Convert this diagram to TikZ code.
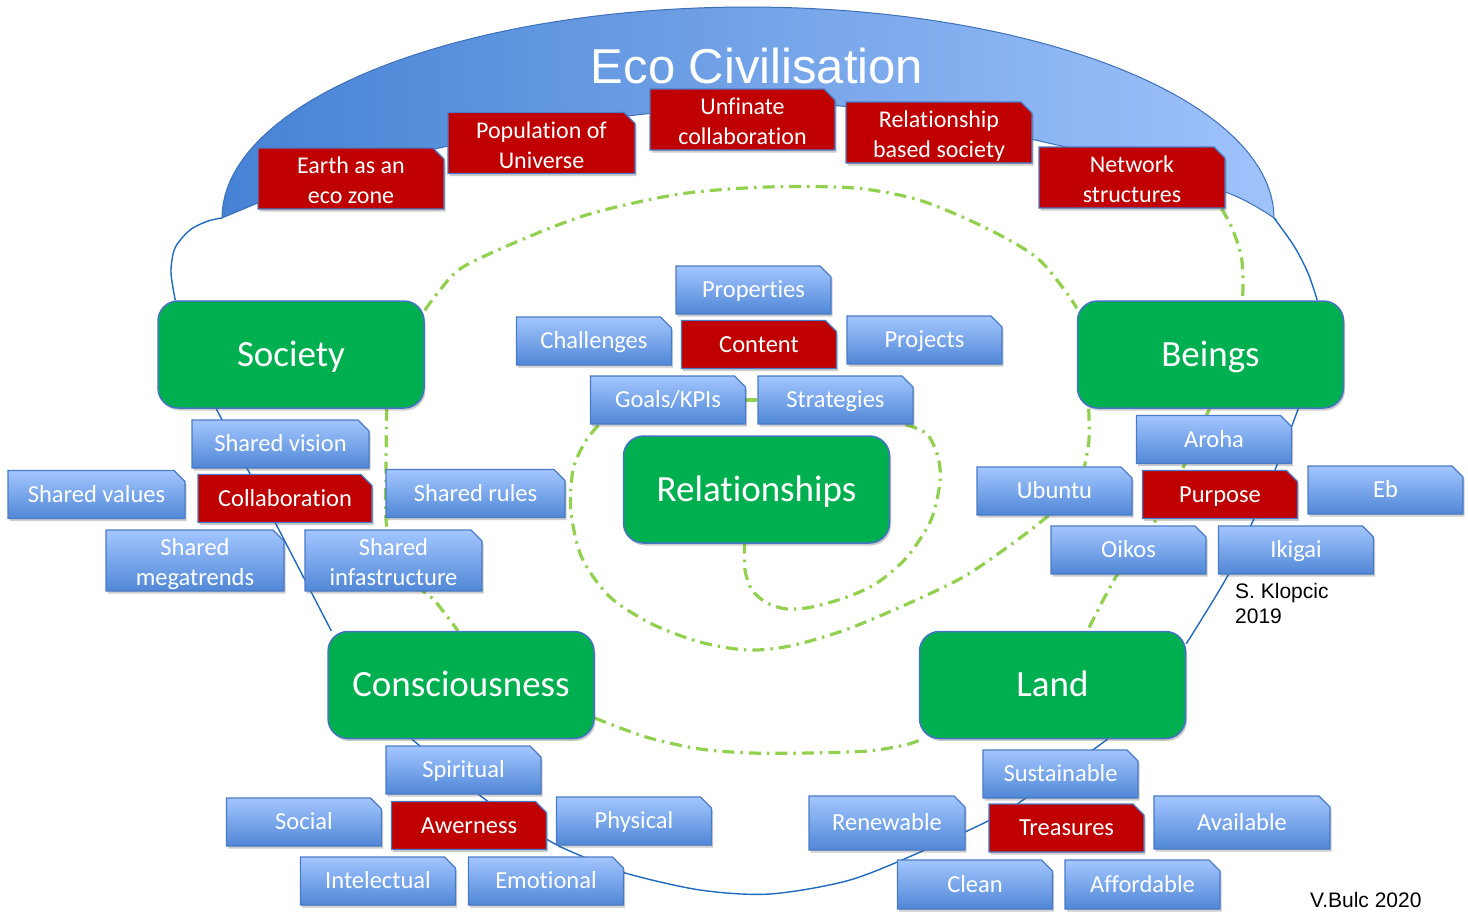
\documentclass[tikz,border=0pt]{standalone}
\usepackage{fontspec}
\setmainfont{Carlito}[Ligatures=NoCommon]
\newfontfamily\arialf{Liberation Sans}
\usetikzlibrary{shapes.misc,shadows,calc}
\definecolor{gboxfill}{HTML}{00B050}
\definecolor{gboxdraw}{HTML}{4472C4}
\definecolor{btop}{HTML}{A3C6FF}
\definecolor{bbot}{HTML}{5087D6}
\definecolor{bdraw}{HTML}{4A7BC6}
\definecolor{redfill}{HTML}{C00000}
\definecolor{arcleft}{HTML}{4682D4}
\definecolor{arcright}{HTML}{9FC3FB}
\definecolor{arcdraw}{HTML}{3E70B8}
\definecolor{bline}{HTML}{1F6BBF}
\definecolor{gline}{HTML}{92D050}
\pgfdeclarelayer{bg}
\pgfsetlayers{bg,main}
\tikzset{
  shad/.style={drop shadow={shadow xshift=1.5pt,shadow yshift=-2.5pt,opacity=0.28,fill=black!70}},
  greenbox/.style={rounded corners=20pt, fill=gboxfill, draw=gboxdraw, line width=1.5pt, text=white,
    font=\fontsize{37}{44}\selectfont, minimum width=266pt, minimum height=107pt, inner sep=0pt,
    text height=23.5pt, text depth=0pt, shad},
  snip/.style={chamfered rectangle, chamfered rectangle corners=north east, chamfered rectangle sep=5.5pt,
    inner sep=0pt, line width=1.2pt, draw=bdraw, text=white, align=center,
    minimum width=155pt, minimum height=48pt, text height=15.7pt, text depth=0pt, shad},
  twoline/.style={text height=50pt, text depth=0pt},
  bluebox/.style={snip, top color=btop, bottom color=bbot, font=\fontsize{24.5}{30}\selectfont},
  redbox/.style={snip, fill=redfill, font=\fontsize{24.5}{30}\selectfont},
  topbox/.style={snip, fill=redfill, font=\fontsize{24}{30}\selectfont, minimum width=186pt, minimum height=57pt, twoline},
  bconn/.style={draw=bline, line width=1.4pt},
  gconn/.style={draw=gline, line width=3.2pt, dash pattern=on 12pt off 6pt on 2.5pt off 6pt},
}
\begin{document}
\begin{tikzpicture}[x=1pt,y=-1pt]
\useasboundingbox (0,0) rectangle (1468,924);
% green boxes
\node[greenbox] (society) at (291,354.5) {Society};
\node[greenbox] (beings) at (1210.5,354.5) {Beings};
\node[greenbox] (relationships) at (756.5,489.5) {Relationships};
\node[greenbox] (consciousness) at (461,685) {Consciousness};
\node[greenbox] (land) at (1052.5,685) {Land};
% top red boxes
\node[topbox] (earth) at (351,178.5) {Earth as an\\eco zone};
\node[topbox, minimum width=187pt, minimum height=58pt] (population) at (541.5,143) {Population of\\Universe};
\node[topbox, minimum width=185pt] (unfinate) at (742.5,119.5) {Unfinate\\collaboration};
\node[topbox] (relsociety) at (939,132.5) {Relationship\\based society};
\node[topbox] (network) at (1132,177.5) {Network\\structures};
% centre group
\node[bluebox] (properties) at (753.5,290) {Properties};
\node[bluebox] (challenges) at (594,341) {Challenges};
\node[redbox] (content) at (759,344.5) {Content};
\node[bluebox] (projects) at (924.5,340) {Projects};
\node[bluebox] (goals) at (668,400) {Goals/KPIs};
\node[bluebox] (strategies) at (835.5,400) {Strategies};
% society group
\node[bluebox, minimum width=177pt] (sharedvision) at (280.5,444) {Shared vision};
\node[bluebox, minimum width=177pt] (sharedvalues) at (96.5,494.5) {Shared values};
\node[redbox, minimum width=174pt] (collaboration) at (285,498.5) {Collaboration};
\node[bluebox, minimum width=179pt] (sharedrules) at (475.5,493.5) {Shared rules};
\node[bluebox, minimum width=178pt, minimum height=61pt, twoline] (megatrends) at (195,560.5) {Shared\\megatrends};
\node[bluebox, minimum width=177pt, minimum height=61pt, twoline] (infrastructure) at (393.5,560.5) {Shared\\infastructure};
% beings group
\node[bluebox] (aroha) at (1214,439.5) {Aroha};
\node[bluebox] (ubuntu) at (1054.5,491) {Ubuntu};
\node[redbox] (purpose) at (1220,494.5) {Purpose};
\node[bluebox] (eb) at (1385.5,490) {Eb};
\node[bluebox] (oikos) at (1128.5,550) {Oikos};
\node[bluebox] (ikigai) at (1296,550) {Ikigai};
% consciousness group
\node[bluebox] (spiritual) at (463.5,770) {Spiritual};
\node[bluebox] (social) at (304,822) {Social};
\node[redbox] (awerness) at (469,825.5) {Awerness};
\node[bluebox] (physical) at (634,821) {Physical};
\node[bluebox] (intelectual) at (378,881) {Intelectual};
\node[bluebox] (emotional) at (546,881) {Emotional};
% land group
\node[bluebox] (sustainable) at (1060.5,774) {Sustainable};
\node[bluebox, minimum width=156pt, minimum height=54pt] (renewable) at (887,823) {Renewable};
\node[redbox] (treasures) at (1066.5,828) {Treasures};
\node[bluebox, minimum width=176pt, minimum height=53pt] (available) at (1242,822.5) {Available};
\node[bluebox, minimum height=49pt] (clean) at (975,884.5) {Clean};
\node[bluebox, minimum height=49pt] (affordable) at (1142.5,884.5) {Affordable};
% texts
\node[font=\arialf\fontsize{49}{55}\selectfont, text=white, inner sep=0pt] (title) at (757,66) {Eco Civilisation};
\node[font=\arialf\fontsize{21}{25}\selectfont, align=left, anchor=north west, inner sep=0pt] (klop) at (1235,583) {S. Klopcic\\2019};
\node[font=\arialf\fontsize{21}{25}\selectfont, anchor=base west, inner sep=0pt] (bulc) at (1310,907) {V.Bulc 2020};
\coordinate (arcL) at (222,218);
\coordinate (arcR) at (1274,218);
\begin{pgfonlayer}{bg}
\fill[white] (0,0) rectangle (1468,924);
% eco arc
\path[left color=arcleft, right color=arcright, draw=arcdraw, line width=1pt]
  plot[domain=180:0, samples=90, variable=\t] ({748+526*cos(\t)},{218-211*sin(\t)})
  -- plot[smooth, tension=0.6] coordinates {(1274,218) (1228,193) (1130,163) (1035,140) (940,120) (840,106) (745,106) (645,114) (545,128) (444,147) (350,170) (290,190) (258,203) (222,218)}
  -- cycle;
% blue connectors
\draw[bconn] plot[smooth] coordinates {([xshift=18pt]society.north west) (171,272) (175,248) (190,230) (208,221) (arcL)};
\draw[bconn] plot[smooth] coordinates {(arcR) (1294,246) (1308,273) ([xshift=-27pt]beings.north east)};
\draw[bconn] ([xshift=59pt]society.south west) -- ([xshift=4pt]consciousness.north west);
\draw[bconn] plot[smooth] coordinates {([xshift=-46pt]beings.south east) (1275,470) (1252,523) (1227,577) ([yshift=-13pt]land.north east)};
\draw[bconn] plot[smooth] coordinates {([xshift=-49pt]consciousness.south) (486,800) (548,840) (579,855) (625,873) (700,890) (770,894) (850,880) (925,850) (990,820) (1023,800) ([xshift=55pt]land.south)};
% green dash-dot connectors
\draw[gconn] plot[smooth] coordinates {([xshift=-4pt]network.south east) (1232,228) (1241,255) (1243,280) ([xshift=32pt]beings.north)};
\draw[gconn] plot[smooth] coordinates {([xshift=12pt]beings.south west) (1089,440) ([xshift=30pt]ubuntu.north)};
\draw[gconn] plot[smooth] coordinates {([xshift=-6pt]ubuntu.south) (1020,538) (965,576) (905,605) (845,630) (790,646) (747,650) (700,642) (652,624) (610,597) (582,558) (571,512) (573,470) (585,442) ([xshift=9pt]goals.south west)};
\draw[gconn] (goals.east) -- (strategies.west);
\draw[gconn] plot[smooth] coordinates {([xshift=-8pt]strategies.south east) (927,434) (938,457) (940,482) (931,520) (907,557) (877,583) (847,597) (812,607) (787,609) (767,603) (752,590) (745,570) ([xshift=-12pt]relationships.south)};
\draw[gconn] plot[smooth] coordinates {([yshift=-10pt]society.north east) (440,290) (463,267) (528,237) (593,213) (680,194) (767,187) (854,188) (919,200) (984,227) (1036,257) (1066,292) ([yshift=-8pt]beings.north west)};
\draw[gconn] plot[smooth] coordinates {([xshift=-38pt]society.south east) (386,470) (387,528) (405,575) (432,598) (446,615) ([xshift=-3pt]consciousness.north)};
\draw[gconn] plot[smooth] coordinates {([xshift=-1pt]beings.south) (1195,440) (1182,470) (1153,525) (1117,575) ([xshift=35pt]land.north)};
\draw[gconn] plot[smooth] coordinates {([yshift=-33pt]consciousness.east) (646,737) (700,749) (752,753) (810,753) (868,751) (905,745) ([xshift=3pt]land.south west)};
\end{pgfonlayer}
\end{tikzpicture}
\end{document}
